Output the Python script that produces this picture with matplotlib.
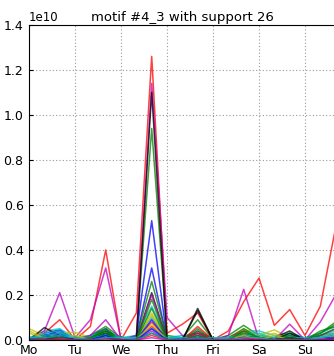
import numpy as np
import matplotlib
matplotlib.use("Agg")
from matplotlib import pyplot as plt


# values in units of 1e10, three bins per day (Mo 0h .. Su 16h + one extra)
days = ["Mo", "Tu", "We", "Thu", "Fri", "Sa", "Su"]
title = "motif #4_3 with support 26"
colors = ["b", "g", "r", "c", "m", "y", "k"]

s00 = [0.00, 0.03, 0.045, 0.00, 0.02, 0.05, 0.00, 0.02, 0.53, 0.00, 0.01, 0.02, 0.00, 0.01, 0.03, 0.01, 0.00, 0.02, 0.00, 0.02, 0.03]
s01 = [0.00, 0.02, 0.03, 0.00, 0.02, 0.06, 0.01, 0.01, 0.94, 0.02, 0.01, 0.09, 0.00, 0.02, 0.065, 0.02, 0.01, 0.03, 0.00, 0.03, 0.08]
s02 = [0.00, 0.03, 0.09, 0.00, 0.06, 0.40, 0.00, 0.12, 1.26, 0.03, 0.07, 0.12, 0.00, 0.04, 0.17, 0.275, 0.065, 0.135, 0.02, 0.15, 0.50]
s03 = [0.01, 0.04, 0.05, 0.01, 0.02, 0.04, 0.01, 0.02, 0.15, 0.01, 0.02, 0.03, 0.01, 0.01, 0.04, 0.04, 0.02, 0.03, 0.01, 0.03, 0.06]
s04 = [0.00, 0.04, 0.21, 0.01, 0.09, 0.32, 0.00, 0.02, 1.14, 0.10, 0.02, 0.00, 0.00, 0.02, 0.225, 0.00, 0.00, 0.02, 0.00, 0.08, 0.20]
s05 = [0.05, 0.02, 0.03, 0.035, 0.01, 0.03, 0.00, 0.01, 0.12, 0.00, 0.00, 0.02, 0.00, 0.00, 0.05, 0.02, 0.045, 0.01, 0.00, 0.02, 0.03]
s06 = [0.00, 0.055, 0.02, 0.00, 0.01, 0.04, 0.00, 0.00, 0.21, 0.00, 0.00, 0.14, 0.00, 0.00, 0.02, 0.00, 0.01, 0.04, 0.00, 0.01, 0.02]
s07 = [0.00, 0.02, 0.04, 0.00, 0.01, 0.03, 0.00, 0.01, 0.32, 0.00, 0.01, 0.03, 0.00, 0.00, 0.02, 0.01, 0.00, 0.01, 0.00, 0.01, 0.02]
s08 = [0.00, 0.01, 0.02, 0.01, 0.01, 0.05, 0.00, 0.01, 0.26, 0.01, 0.00, 0.05, 0.00, 0.01, 0.05, 0.01, 0.01, 0.02, 0.00, 0.04, 0.06]
s09 = [0.00, 0.01, 0.01, 0.00, 0.00, 0.02, 0.00, 0.00, 0.08, 0.00, 0.00, 0.06, 0.00, 0.01, 0.04, 0.01, 0.00, 0.01, 0.00, 0.01, 0.02]
s10 = [0.00, 0.03, 0.04, 0.00, 0.01, 0.03, 0.01, 0.01, 0.10, 0.01, 0.01, 0.02, 0.00, 0.01, 0.03, 0.03, 0.01, 0.02, 0.00, 0.02, 0.04]
s11 = [0.00, 0.01, 0.02, 0.00, 0.02, 0.09, 0.00, 0.00, 0.20, 0.00, 0.00, 0.04, 0.00, 0.00, 0.02, 0.00, 0.00, 0.07, 0.00, 0.02, 0.05]
s12 = [0.04, 0.01, 0.01, 0.02, 0.00, 0.02, 0.00, 0.00, 0.11, 0.00, 0.00, 0.01, 0.00, 0.00, 0.03, 0.01, 0.03, 0.00, 0.00, 0.01, 0.02]
s13 = [0.00, 0.02, 0.01, 0.00, 0.00, 0.03, 0.00, 0.00, 1.10, 0.00, 0.00, 0.13, 0.00, 0.00, 0.01, 0.00, 0.00, 0.03, 0.00, 0.00, 0.01]
s14 = [0.00, 0.02, 0.03, 0.00, 0.01, 0.02, 0.00, 0.00, 0.09, 0.00, 0.00, 0.01, 0.00, 0.00, 0.02, 0.00, 0.00, 0.01, 0.00, 0.01, 0.01]
s15 = [0.00, 0.01, 0.02, 0.00, 0.01, 0.04, 0.00, 0.00, 0.14, 0.00, 0.00, 0.04, 0.00, 0.00, 0.03, 0.01, 0.00, 0.02, 0.00, 0.02, 0.05]
s16 = [0.00, 0.00, 0.01, 0.00, 0.00, 0.01, 0.00, 0.00, 0.06, 0.00, 0.00, 0.03, 0.00, 0.00, 0.02, 0.00, 0.00, 0.00, 0.00, 0.00, 0.01]
s17 = [0.01, 0.02, 0.03, 0.01, 0.01, 0.02, 0.01, 0.01, 0.05, 0.01, 0.01, 0.01, 0.01, 0.01, 0.02, 0.02, 0.01, 0.01, 0.01, 0.01, 0.03]
s18 = [0.00, 0.00, 0.01, 0.00, 0.00, 0.01, 0.00, 0.00, 0.04, 0.00, 0.00, 0.02, 0.00, 0.00, 0.01, 0.00, 0.00, 0.01, 0.00, 0.00, 0.01]
s19 = [0.03, 0.01, 0.00, 0.02, 0.00, 0.01, 0.00, 0.00, 0.07, 0.00, 0.00, 0.00, 0.00, 0.00, 0.02, 0.00, 0.02, 0.00, 0.00, 0.00, 0.01]
s20 = [0.00, 0.01, 0.00, 0.00, 0.00, 0.01, 0.00, 0.00, 0.03, 0.00, 0.00, 0.01, 0.00, 0.00, 0.00, 0.00, 0.00, 0.01, 0.00, 0.00, 0.00]
s21 = [0.00, 0.01, 0.02, 0.00, 0.00, 0.02, 0.00, 0.00, 0.05, 0.00, 0.00, 0.00, 0.00, 0.00, 0.01, 0.00, 0.00, 0.00, 0.00, 0.00, 0.01]
s22 = [0.00, 0.01, 0.01, 0.00, 0.01, 0.03, 0.00, 0.00, 0.18, 0.00, 0.00, 0.02, 0.00, 0.00, 0.04, 0.01, 0.00, 0.01, 0.00, 0.03, 0.07]
s23 = [0.00, 0.00, 0.00, 0.00, 0.00, 0.00, 0.00, 0.00, 0.02, 0.00, 0.00, 0.00, 0.00, 0.00, 0.01, 0.00, 0.00, 0.00, 0.00, 0.00, 0.00]
s24 = [0.01, 0.01, 0.02, 0.01, 0.00, 0.01, 0.01, 0.00, 0.03, 0.00, 0.00, 0.01, 0.00, 0.00, 0.01, 0.01, 0.00, 0.00, 0.00, 0.01, 0.02]
s25 = [0.00, 0.00, 0.00, 0.00, 0.00, 0.00, 0.00, 0.00, 0.01, 0.00, 0.00, 0.00, 0.00, 0.00, 0.00, 0.00, 0.00, 0.00, 0.00, 0.00, 0.00]

series = [s00, s01, s02, s03, s04, s05, s06, s07, s08, s09, s10, s11, s12,
          s13, s14, s15, s16, s17, s18, s19, s20, s21, s22, s23, s24, s25]

plt.rcParams['font.family'] = 'DejaVu Sans'
fig = plt.figure(figsize=(3.34, 3.56), dpi=100)
ax = fig.add_axes([0.087, 0.045, 0.918, 0.885])

for i, s in enumerate(series):
    ax.plot(np.arange(len(s)), np.array(s) * 1e10,
            color=colors[i % len(colors)], lw=1.1, alpha=0.75)

ax.set_xlim(0, 20)
ax.set_ylim(0, 1.4e10)
ax.set_xticks(np.arange(0, 21, 3))
ax.set_xticklabels(days)
ax.set_yticks(np.arange(0, 1.41e10, 0.2e10))
ax.ticklabel_format(axis='y', style='sci', scilimits=(0, 0))
ax.yaxis.get_offset_text().set_fontsize(8.5)
ax.tick_params(direction='in', labelsize=9, length=3)
ax.tick_params(axis='y', pad=4)
ax.tick_params(axis='x', pad=3)
ax.grid(True, linestyle=(0, (1, 2)), color='0.6', lw=0.8)
ax.set_title(title, fontsize=9.5, pad=3)

fig.savefig("out.png", dpi=100)
